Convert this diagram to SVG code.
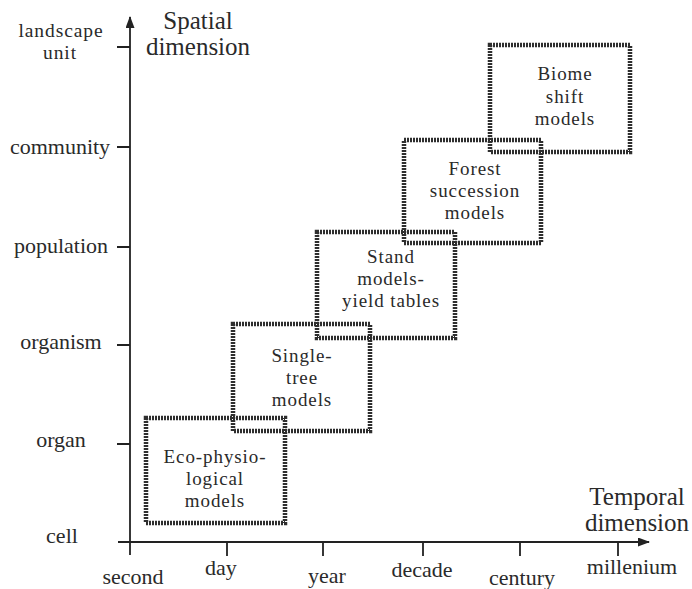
<svg xmlns="http://www.w3.org/2000/svg" width="692" height="589" viewBox="0 0 692 589">
<style>
text{font-family:"Liberation Serif","Times New Roman",serif;fill:#2a2a2a;text-anchor:middle;}
.lab{font-size:22px;}
.lab2{font-size:19.5px;letter-spacing:0.9px;}
.ttl{font-size:25px;}
.box{font-size:19px;letter-spacing:0.9px;}
.bx{fill:none;stroke:#2e2e2e;stroke-width:4.5;stroke-dasharray:2 1;}
.ax{stroke:#222;stroke-width:1.8;fill:none;}
</style>
<defs>
<marker id="ah" markerWidth="12" markerHeight="9" refX="11" refY="4.5" orient="auto" markerUnits="userSpaceOnUse">
<path d="M0,0 L12,4.5 L0,9 Z" fill="#222"/>
</marker>
</defs>
<g id="connectors">
<line class="ax" x1="130" y1="555" x2="130" y2="17" marker-end="url(#ah)"/>
<line class="ax" x1="118" y1="542" x2="649" y2="542" marker-end="url(#ah)"/>
<path class="ax" d="M117,47H130M117,147H130M117,247H130M117,345H130M117,444H130"/>
<path class="ax" d="M227,542V556M323,542V556M423,542V556M520,542V556M618,542V556"/>
</g>
<g id="y-labels" class="lab">
<text class="lab2" x="61" y="37">landscape</text>
<text class="lab2" x="60" y="59">unit</text>
<text x="60" y="154">community</text>
<text x="61" y="253">population</text>
<text x="61" y="349">organism</text>
<text x="61" y="447">organ</text>
<text x="62" y="543">cell</text>
</g>
<g id="x-labels" class="lab">
<text x="133" y="584">second</text>
<text x="221" y="575">day</text>
<text x="327" y="583">year</text>
<text x="422" y="577">decade</text>
<text x="522" y="585">century</text>
<text x="632" y="574">millenium</text>
</g>
<g id="titles" class="ttl">
<text x="198" y="29">Spatial</text>
<text x="198" y="55">dimension</text>
<text x="637" y="505">Temporal</text>
<text x="637" y="531">dimension</text>
</g>
<g id="eco">
<rect class="bx" x="146" y="418" width="139" height="105"/>
<text class="box" x="215" y="463">Eco-physio-</text>
<text class="box" x="215" y="485">logical</text>
<text class="box" x="215" y="507">models</text>
</g>
<g id="single">
<rect class="bx" x="233" y="324" width="137" height="107"/>
<text class="box" x="302" y="362">Single-</text>
<text class="box" x="302" y="384">tree</text>
<text class="box" x="302" y="406">models</text>
</g>
<g id="stand">
<rect class="bx" x="317" y="232" width="138" height="106"/>
<text class="box" x="391" y="263">Stand</text>
<text class="box" x="391" y="285">models-</text>
<text class="box" x="391" y="307">yield tables</text>
</g>
<g id="forest">
<rect class="bx" x="404" y="140" width="137" height="103"/>
<text class="box" x="475" y="175">Forest</text>
<text class="box" x="475" y="197">succession</text>
<text class="box" x="475" y="219">models</text>
</g>
<g id="biome">
<rect class="bx" x="490" y="45" width="140" height="107"/>
<text class="box" x="565" y="80">Biome</text>
<text class="box" x="565" y="103">shift</text>
<text class="box" x="565" y="125">models</text>
</g>
</svg>
